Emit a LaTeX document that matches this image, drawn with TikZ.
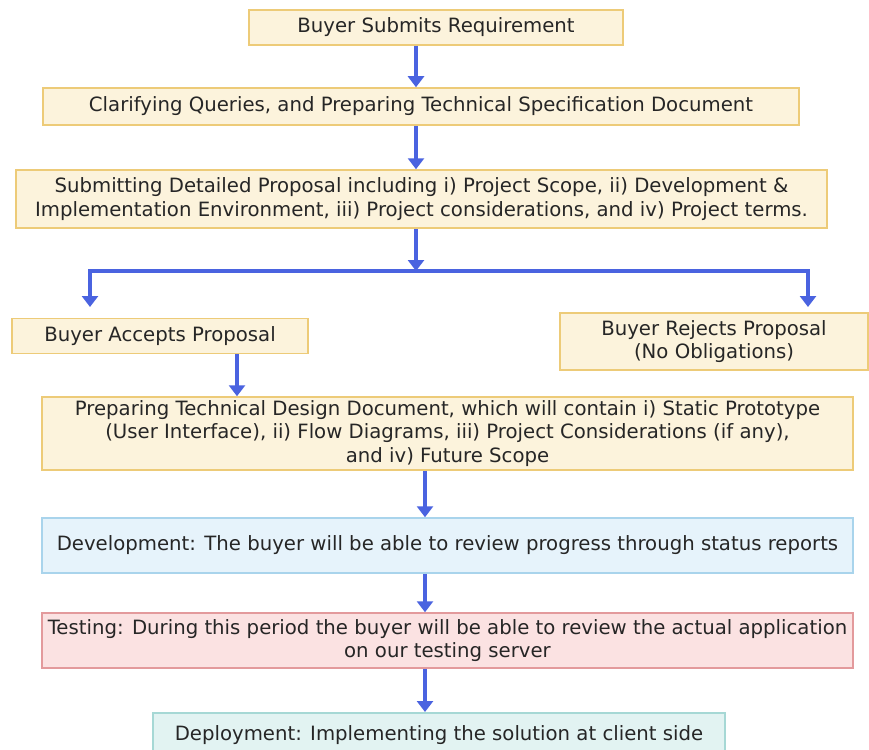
\documentclass[tikz,border=0pt]{standalone}
\usepackage{fontspec}
\setmainfont{DejaVu Sans}
\usepackage{tikz}
\usetikzlibrary{%
  arrows.meta,% Triangle tips
  positioning%
}
\definecolor{boxfill}{HTML}{FCF3DC}
\definecolor{boxline}{HTML}{EDCB78}
\definecolor{devfill}{HTML}{E6F3FB}
\definecolor{devline}{HTML}{A9D4EC}
\definecolor{testfill}{HTML}{FBE2E2}
\definecolor{testline}{HTML}{E39A9C}
\definecolor{depfill}{HTML}{E2F3F2}
\definecolor{depline}{HTML}{A6D8D5}
\definecolor{flowblue}{HTML}{4A63E0}

\begin{document}
\begin{tikzpicture}[x=1pt,y=-1pt,
  stage/.style={draw=boxline,fill=boxfill,line width=1.5pt,inner sep=0pt,
     align=center,text=black!85,font=\fontsize{19.7}{23.5}\selectfont},
  flow/.style={draw=flowblue,line width=3.5pt,
     -{Triangle[width=16pt,length=11pt]}}]
\useasboundingbox (0,0) rectangle (869,749);
\clip (0,0) rectangle (869,749);
\fill[white] (0,0) rectangle (869,749);
% upper part
\node[stage,minimum width=374pt,minimum height=35pt] (req) at (436,27.5)
   {Buyer Submits Requirement};
\node[stage,minimum width=756pt,minimum height=37pt] (spec) at (421,106.5)
   {Clarifying Queries, and Preparing Technical Specification Document};
\node[stage,minimum width=811pt,minimum height=58pt] (prop) at (421.5,199)
   {Submitting Detailed Proposal including i) Project Scope, ii) Development \&\\
    Implementation Environment, iii) Project considerations, and iv) Project terms.};
\node[stage,minimum width=296pt,minimum height=35pt] (accept) at (160,336)
   {Buyer Accepts Proposal};
\node[stage,minimum width=308pt,minimum height=57pt] (reject) at (714,341.5)
   {Buyer Rejects Proposal\\(No Obligations)};
\node[stage,minimum width=811pt,minimum height=73pt] (design) at (447.5,433.5)
   {Preparing Technical Design Document, which will contain i) Static Prototype\\
    (User Interface), ii) Flow Diagrams, iii) Project Considerations (if any),\\
    and iv) Future Scope};
% lower part
\node[stage,draw=devline,fill=devfill,minimum width=811pt,minimum height=55pt]
   (dev) at (447.5,545.5)
   {Development: The buyer will be able to review progress through status reports};
\node[stage,draw=testline,fill=testfill,minimum width=811pt,minimum height=55pt]
   (test) at (447.5,640.5)
   {Testing: During this period the buyer will be able to review the actual application\\
    on our testing server};
\node[stage,draw=depline,fill=depfill,minimum width=572pt,minimum height=60pt,
   anchor=north,text depth=0pt] (deploy) at (439,712) {};
\node[text=black!85,font=\fontsize{19.7}{23.5}\selectfont] (deptext) at (439,735)
   {Deployment: Implementing the solution at client side};
% arrows
\coordinate (split) at (416,271);
\coordinate (accin) at (90,307);
\coordinate (rejin) at (808,307);
\draw[flow] (req.south -| 416,0) -- (spec.north -| 416,0);
\draw[flow] (spec.south -| 416,0) -- (prop.north -| 416,0);
\draw[flow] (prop.south -| split) -- (split);
\draw[flow] (split) -| (accin);
\draw[flow] (split) -| (rejin);
\draw[flow] (accept.south -| 237,0) -- (design.north -| 237,0);
\draw[flow] (design.south -| 425,0) -- (dev.north -| 425,0);
\draw[flow] (dev.south -| 425,0) -- (test.north -| 425,0);
\draw[flow] (test.south -| 425,0) -- (deploy.north -| 425,0);
\end{tikzpicture}
\end{document}
